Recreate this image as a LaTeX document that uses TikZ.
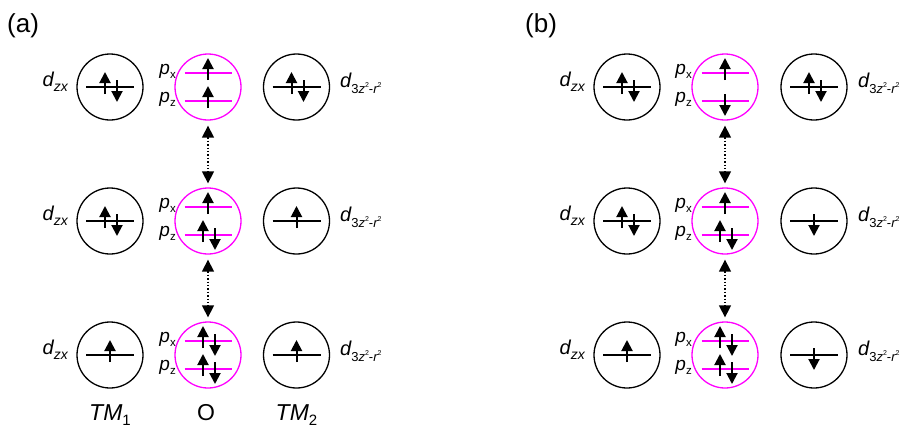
\documentclass[tikz,border=0pt]{standalone}
\usepackage{fontspec}
\setmainfont{Liberation Sans}
\usetikzlibrary{arrows.meta}
\definecolor{pmag}{RGB}{255,0,255}
\newcommand\fs[1]{\fontsize{#1}{#1}\selectfont}
\newcommand\dlab[1]{{\fs{20}\itshape d}\raisebox{-5pt}{\fs{14}\itshape #1}}
\newcommand\dlabz{{\fs{20}\itshape d}\raisebox{-6pt}{\fs{13}3\itshape z\raisebox{6pt}{\fs{7}\upshape 2}\upshape -\itshape r\raisebox{6pt}{\fs{7}\upshape 2}}}
\newcommand\plab[1]{{\fs{19}\itshape p}\raisebox{-3.5pt}{\fs{11.5}#1}}
\newcommand\tmlab[1]{{\fs{23}\itshape TM}\raisebox{-5pt}{\fs{15}#1}}
\newcommand\spinU[2]{\draw[spin] ({#1},{#2+7}) -- ({#1},{#2-15});}
\newcommand\spinD[2]{\draw[spin] ({#1},{#2-7}) -- ({#1},{#2+15});}
\newcommand\pairUD[2]{\spinU{#1-5}{#2}\spinD{#1+7}{#2}}
\newcommand\dline[2]{\draw[level] ({#1-24},{#2}) -- ({#1+24},{#2});}
\newcommand\pline[2]{\draw[plevel] ({#1-23.5},{#2}) -- ({#1+23.5},{#2});}
\begin{document}
\begin{tikzpicture}[x=1pt,y=-1pt,
  orb/.style={circle, draw=black, line width=1.3pt, minimum size=66pt, inner sep=0pt},
  oorb/.style={orb, draw=pmag},
  spin/.style={line width=2pt, -{Triangle[length=11pt,width=11pt]}},
  level/.style={line width=1.5pt, black},
  plevel/.style={line width=1.5pt, pmag},
  hop/.style={dotted, line width=1.4pt, {Triangle[length=12pt,width=12pt]}-{Triangle[length=12pt,width=12pt]}, shorten <=5pt, shorten >=4pt},
  txt/.style={inner sep=0pt}]
\useasboundingbox (0,0) rectangle (905,432);
% panel labels
\node[txt, anchor=base west] (la) at (7,32) {\fs{26}(a)};
\node[txt, anchor=base west] (lb) at (525,32) {\fs{26}(b)};
\foreach \r/\y in {1/87,2/221,3/355}{
  % panel (a)
  \node[orb] (ad\r) at (110,\y) {};
  \node[oorb] (ao\r) at (208,\y) {};
  \node[orb] (at\r) at (296.5,\y) {};
  \node[txt, anchor=base east] (adl\r) at (68,\y-1) {\dlab{zx}};
  \node[txt, anchor=base west] (atl\r) at (340,\y) {\dlabz};
  \node[txt, anchor=base east] (apx\r) at (176,\y-12.5) {\plab{x}};
  \node[txt, anchor=base east] (apz\r) at (176,\y+15.5) {\plab{z}};
  \dline{110}{\y}
  \dline{296.5}{\y}
  \pline{208}{\y-14}
  \pline{208}{\y+14}
  % panel (b)
  \node[orb] (bd\r) at (627,\y) {};
  \node[oorb] (bo\r) at (725,\y) {};
  \node[orb] (bt\r) at (814,\y) {};
  \node[txt, anchor=base east] (bdl\r) at (585,\y-1) {\dlab{zx}};
  \node[txt, anchor=base west] (btl\r) at (858,\y) {\dlabz};
  \node[txt, anchor=base east] (bpx\r) at (692,\y-12.5) {\plab{x}};
  \node[txt, anchor=base east] (bpz\r) at (692,\y+15.5) {\plab{z}};
  \dline{627}{\y}
  \dline{814}{\y}
  \pline{725}{\y-14}
  \pline{725}{\y+14}
}
% (a) row 1
\pairUD{110}{87}
\spinU{208}{73}
\spinU{208}{101}
\pairUD{296.5}{87}
% (a) row 2
\pairUD{110}{221}
\spinU{208}{207}
\pairUD{208}{235}
\spinU{296.5}{221}
% (a) row 3
\spinU{110}{355}
\pairUD{208}{341}
\pairUD{208}{369}
\spinU{296.5}{355}
% (b) row 1
\pairUD{627}{87}
\spinU{725}{73}
\spinD{725}{101}
\pairUD{814}{87}
% (b) row 2
\pairUD{627}{221}
\spinU{725}{207}
\pairUD{725}{235}
\spinD{814}{221}
% (b) row 3
\spinU{627}{355}
\pairUD{725}{341}
\pairUD{725}{369}
\spinD{814}{355}
% hopping arrows
\draw[hop] (ao1) -- (ao2);
\draw[hop] (ao2) -- (ao3);
\draw[hop] (bo1) -- (bo2);
\draw[hop] (bo2) -- (bo3);
% bottom labels
\node[txt, anchor=base] (tm1) at (110,420) {\tmlab{1}};
\node[txt, anchor=base] (oo) at (206,420) {\fs{23}O};
\node[txt, anchor=base] (tm2) at (296.5,420) {\tmlab{2}};
\end{tikzpicture}
\end{document}
